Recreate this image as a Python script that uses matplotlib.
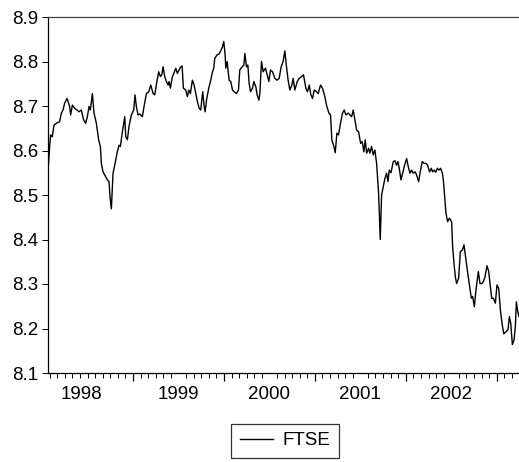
import matplotlib
matplotlib.use("Agg")
import matplotlib.pyplot as plt
import numpy as np

plt.rcParams['font.family'] = ['Liberation Sans', 'DejaVu Sans']

# weekly log FTSE, time as decimal year
t = [1998.065, 1998.083, 1998.094, 1998.112, 1998.131, 1998.156, 1998.193, 1998.212, 1998.230, 1998.248,
     1998.274, 1998.303, 1998.314, 1998.333, 1998.358, 1998.384, 1998.406, 1998.432, 1998.443, 1998.457,
     1998.479, 1998.498, 1998.516, 1998.531, 1998.553, 1998.571, 1998.597, 1998.622, 1998.641, 1998.652,
     1998.670, 1998.700, 1998.718, 1998.736, 1998.747, 1998.762, 1998.780, 1998.799, 1998.824, 1998.846,
     1998.861, 1998.883, 1998.909, 1998.920, 1998.938, 1998.956, 1998.982, 1999.008, 1999.022, 1999.037,
     1999.055, 1999.074, 1999.103, 1999.118, 1999.147, 1999.173, 1999.195, 1999.221, 1999.239, 1999.265,
     1999.283, 1999.301, 1999.316, 1999.331, 1999.349, 1999.367, 1999.386, 1999.397, 1999.411, 1999.433,
     1999.448, 1999.470, 1999.488, 1999.507, 1999.525, 1999.540, 1999.554, 1999.580, 1999.598, 1999.613,
     1999.631, 1999.653, 1999.672, 1999.690, 1999.708, 1999.727, 1999.745, 1999.756, 1999.767, 1999.782,
     1999.793, 1999.808, 1999.833, 1999.855, 1999.874, 1999.888, 1999.899, 1999.925, 1999.947, 1999.969,
     1999.984, 1999.998, 2000.013, 2000.020, 2000.035, 2000.057, 2000.075, 2000.094, 2000.112, 2000.138,
     2000.160, 2000.174, 2000.200, 2000.219, 2000.230, 2000.248, 2000.263, 2000.277, 2000.292, 2000.314,
     2000.329, 2000.351, 2000.365, 2000.384, 2000.395, 2000.413, 2000.431, 2000.457, 2000.475, 2000.494,
     2000.512, 2000.534, 2000.560, 2000.585, 2000.607, 2000.629, 2000.651, 2000.670, 2000.688, 2000.706,
     2000.725, 2000.747, 2000.761, 2000.780, 2000.806, 2000.828, 2000.853, 2000.875, 2000.901, 2000.919,
     2000.938, 2000.956, 2000.974, 2000.993, 2001.018, 2001.037, 2001.062, 2001.084, 2001.110, 2001.128,
     2001.154, 2001.172, 2001.187, 2001.209, 2001.224, 2001.242, 2001.260, 2001.282, 2001.304, 2001.323,
     2001.341, 2001.367, 2001.385, 2001.404, 2001.422, 2001.440, 2001.459, 2001.481, 2001.503, 2001.521,
     2001.539, 2001.554, 2001.569, 2001.591, 2001.605, 2001.624, 2001.642, 2001.660, 2001.679, 2001.701,
     2001.719, 2001.734, 2001.745, 2001.770, 2001.789, 2001.804, 2001.818, 2001.837, 2001.862, 2001.881,
     2001.899, 2001.914, 2001.928, 2001.947, 2001.965, 2001.983, 2002.009, 2002.027, 2002.046, 2002.064,
     2002.082, 2002.104, 2002.119, 2002.141, 2002.156, 2002.181, 2002.203, 2002.222, 2002.240, 2002.262,
     2002.281, 2002.295, 2002.314, 2002.328, 2002.347, 2002.365, 2002.383, 2002.402, 2002.413, 2002.431,
     2002.442, 2002.460, 2002.479, 2002.504, 2002.515, 2002.530, 2002.545, 2002.559, 2002.581, 2002.600,
     2002.622, 2002.640, 2002.662, 2002.684, 2002.706, 2002.721, 2002.735, 2002.754, 2002.772, 2002.798,
     2002.816, 2002.835, 2002.853, 2002.871, 2002.893, 2002.912, 2002.926, 2002.945, 2002.963, 2002.985,
     2003.003, 2003.022, 2003.040, 2003.058, 2003.077, 2003.102, 2003.124, 2003.139, 2003.154, 2003.172,
     2003.190, 2003.205, 2003.216, 2003.231, 2003.245]

ftse = [8.552, 8.609, 8.635, 8.631, 8.657, 8.661, 8.665, 8.684, 8.691, 8.706,
        8.717, 8.699, 8.680, 8.702, 8.695, 8.691, 8.687, 8.691, 8.680, 8.669,
        8.661, 8.676, 8.699, 8.691, 8.728, 8.684, 8.661, 8.624, 8.609, 8.571,
        8.552, 8.541, 8.534, 8.530, 8.496, 8.469, 8.549, 8.567, 8.594, 8.612,
        8.609, 8.642, 8.676, 8.631, 8.624, 8.654, 8.680, 8.691, 8.725, 8.699,
        8.680, 8.682, 8.676, 8.695, 8.728, 8.732, 8.747, 8.728, 8.725, 8.758,
        8.777, 8.766, 8.770, 8.788, 8.766, 8.755, 8.747, 8.755, 8.740, 8.766,
        8.773, 8.785, 8.773, 8.781, 8.788, 8.790, 8.740, 8.736, 8.721, 8.736,
        8.728, 8.758, 8.747, 8.728, 8.710, 8.695, 8.691, 8.713, 8.732, 8.699,
        8.687, 8.713, 8.740, 8.758, 8.777, 8.785, 8.807, 8.815, 8.817, 8.826,
        8.833, 8.845, 8.815, 8.785, 8.800, 8.758, 8.755, 8.736, 8.732, 8.728,
        8.736, 8.781, 8.788, 8.792, 8.818, 8.788, 8.792, 8.751, 8.732, 8.740,
        8.755, 8.743, 8.725, 8.713, 8.728, 8.800, 8.777, 8.785, 8.770, 8.755,
        8.781, 8.777, 8.762, 8.758, 8.762, 8.788, 8.800, 8.824, 8.788, 8.758,
        8.736, 8.747, 8.762, 8.736, 8.755, 8.762, 8.766, 8.770, 8.740, 8.732,
        8.747, 8.725, 8.717, 8.736, 8.732, 8.728, 8.747, 8.740, 8.721, 8.702,
        8.684, 8.680, 8.624, 8.609, 8.595, 8.639, 8.635, 8.661, 8.684, 8.691,
        8.680, 8.684, 8.680, 8.676, 8.691, 8.669, 8.646, 8.642, 8.616, 8.620,
        8.597, 8.624, 8.594, 8.605, 8.594, 8.609, 8.590, 8.601, 8.571, 8.504,
        8.400, 8.500, 8.511, 8.537, 8.549, 8.530, 8.556, 8.550, 8.575, 8.577,
        8.567, 8.575, 8.560, 8.534, 8.549, 8.564, 8.582, 8.564, 8.549, 8.556,
        8.549, 8.552, 8.545, 8.530, 8.549, 8.575, 8.571, 8.571, 8.567, 8.552,
        8.560, 8.552, 8.556, 8.551, 8.560, 8.556, 8.560, 8.549, 8.534, 8.489,
        8.459, 8.440, 8.448, 8.440, 8.384, 8.346, 8.316, 8.301, 8.313, 8.373,
        8.376, 8.388, 8.354, 8.320, 8.290, 8.268, 8.272, 8.249, 8.287, 8.328,
        8.301, 8.301, 8.305, 8.316, 8.341, 8.328, 8.301, 8.268, 8.268, 8.257,
        8.298, 8.290, 8.242, 8.212, 8.188, 8.193, 8.197, 8.227, 8.212, 8.164,
        8.174, 8.204, 8.260, 8.238, 8.227]

year_bounds = [1999, 2000, 2001, 2002, 2003]
year_labels = ['1998', '1999', '2000', '2001', '2002']
label_pos = [1998.43, 1999.5, 2000.5, 2001.5, 2002.5]
yticks = [8.1, 8.2, 8.3, 8.4, 8.5, 8.6, 8.7, 8.8, 8.9]

fig = plt.figure(figsize=(5.19, 4.62), dpi=100)
ax = fig.add_axes([48 / 519, 1 - 373 / 462, 1 - 48 / 519, (373 - 17) / 462])

line, = ax.plot(t, ftse, color='black', lw=1.0, label='FTSE')

ax.set_xlim(t[0], t[-1])
ax.set_ylim(8.1, 8.9)
ax.set_yticks(yticks)
ax.set_yticklabels([f'{v:.1f}' for v in yticks])

# year labels centred in each year, no tick marks
ax.set_xticks(label_pos)
ax.set_xticklabels(year_labels)
ax.tick_params(axis='x', which='major', length=0, pad=9.5)
# monthly minor ticks
months = [y + m / 12 for y in range(1998, 2004) for m in range(12)]
months = [m for m in months if t[0] <= m <= t[-1]]
ax.set_xticks(months, minor=True)
ax.tick_params(axis='x', which='minor', length=3.5, width=0.7, direction='out')
# longer ticks at year boundaries
sec = ax.secondary_xaxis('bottom')
sec.set_xticks(year_bounds)
sec.set_xticklabels([])
sec.tick_params(length=6, width=0.9, direction='out')
sec.spines['bottom'].set_visible(False)

ax.tick_params(axis='y', length=4, width=0.7, pad=3)
ax.tick_params(labelsize=13.5)

ax.spines['right'].set_visible(False)
for s in ['left', 'bottom', 'top']:
    ax.spines[s].set_linewidth(0.9)
ax.spines['top'].set_color('#444444')

leg = fig.legend(handles=[line], loc='center', bbox_to_anchor=(285 / 519, 1 - 440.5 / 462),
                 fontsize=13.5, frameon=True, fancybox=False, handlelength=1.8,
                 handletextpad=0.5, borderpad=0.45, edgecolor='black')
leg.get_frame().set_linewidth(0.9)

fig.savefig('out.png', dpi=100)
